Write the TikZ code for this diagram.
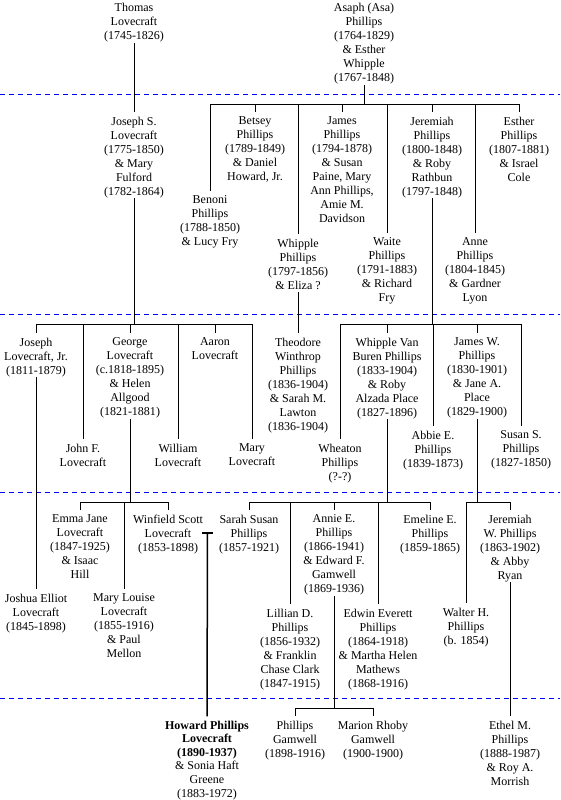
\documentclass[tikz,border=0pt]{standalone}
\usepackage{fontspec}
\setmainfont{Liberation Serif}
\newcommand\botstrut{\rule[-3pt]{0pt}{3pt}}
\tikzset{
  person/.style={anchor=north, align=center, inner sep=0pt, outer sep=0pt,
    font=\fontsize{12}{14}\selectfont, execute at end node=\botstrut},
  link/.style={draw=black, line width=1pt},
  drop/.style={link, shorten >=4.4pt},
  gensep/.style={draw=blue, line width=1pt, dash pattern=on 5pt off 4pt},
  marriage/.style={draw=black, line width=2pt}
}
\begin{document}
\begin{tikzpicture}[x=1pt, y=-1pt]
\useasboundingbox (0,0) rectangle (560,800);
\fill[white] (0,0) rectangle (560,800);

% generation separators
\draw[gensep] (0,94.5) -- (560,94.5);
\draw[gensep] (0,314.5) -- (560,314.5);
\draw[gensep] (0,492.5) -- (560,492.5);
\draw[gensep] (0,698) -- (560,698);

% bar levels
\coordinate (yA) at (0,104);
\coordinate (yB) at (0,324);
\coordinate (yC) at (0,502);
\coordinate (yD) at (0,708);

% generation 1
\node[person] (thomas) at (134,3.2) {Thomas\\Lovecraft\\(1745-1826)};
\node[person] (asaph) at (364,3.2) {Asaph (Asa)\\Phillips\\(1764-1829)\\\& Esther\\Whipple\\(1767-1848)};

% generation 2
\node[person] (josephS) at (134,116.7) {Joseph S.\\Lovecraft\\(1775-1850)\\\& Mary\\Fulford\\(1782-1864)};
\node[person] (benoni) at (210,195.7) {Benoni\\Phillips\\(1788-1850)\\\& Lucy Fry};
\node[person] (betsey) at (255,116.7) {Betsey\\Phillips\\(1789-1849)\\\& Daniel\\Howard, Jr.};
\node[person] (whipple) at (298,238.7) {Whipple\\Phillips\\(1797-1856)\\\& Eliza ?};
\node[person] (james) at (342,116.7) {James\\Phillips\\(1794-1878)\\\& Susan\\Paine, Mary\\Ann Phillips,\\Amie M.\\Davidson};
\node[person] (waite) at (387,237.7) {Waite\\Phillips\\(1791-1883)\\\& Richard\\Fry};
\node[person] (jeremiah) at (432,116.7) {Jeremiah\\Phillips\\(1800-1848)\\\& Roby\\Rathbun\\(1797-1848)};
\node[person] (anne) at (475,237.7) {Anne\\Phillips\\(1804-1845)\\\& Gardner\\Lyon};
\node[person] (esther) at (519,116.7) {Esther\\Phillips\\(1807-1881)\\\& Israel\\Cole};

% generation 3
\node[person] (josephjr) at (36,337.7) {Joseph\\Lovecraft, Jr.\\(1811-1879)};
\node[person] (johnf) at (83,443.7) {John F.\\Lovecraft};
\node[person] (george) at (130,337.7) {George\\Lovecraft\\(c.1818-1895)\\\& Helen\\Allgood\\(1821-1881)};
\node[person] (william) at (178,443.7) {William\\Lovecraft};
\node[person] (aaron) at (215,337.7) {Aaron\\Lovecraft};
\node[person] (mary) at (252,443.7) {Mary\\Lovecraft};
\node[person] (theodore) at (298,337.7) {Theodore\\Winthrop\\Phillips\\(1836-1904)\\\& Sarah M.\\Lawton\\(1836-1904)};
\node[person] (wheaton) at (340,443.7) {Wheaton\\Phillips\\(?-?)};
\node[person] (whippleVB) at (387,337.7) {Whipple Van\\Buren Phillips\\(1833-1904)\\\& Roby\\Alzada Place\\(1827-1896)};
\node[person] (abbie) at (433,430.7) {Abbie E.\\Phillips\\(1839-1873)};
\node[person] (jamesW) at (477,337.7) {James W.\\Phillips\\(1830-1901)\\\& Jane A.\\Place\\(1829-1900)};
\node[person] (susan) at (521,430.7) {Susan S.\\Phillips\\(1827-1850)};

% generation 4
\node[person] (joshua) at (36,593.7) {Joshua Elliot\\Lovecraft\\(1845-1898)};
\node[person] (emma) at (80,514.7) {Emma Jane\\Lovecraft\\(1847-1925)\\\& Isaac\\Hill};
\node[person] (marylouise) at (124,593.7) {Mary Louise\\Lovecraft\\(1855-1916)\\\& Paul\\Mellon};
\node[person] (winfield) at (168,514.7) {Winfield Scott\\Lovecraft\\(1853-1898)};
\node[person] (sarah) at (249,514.7) {Sarah Susan\\Phillips\\(1857-1921)};
\node[person] (lillian) at (290,608.7) {Lillian D.\\Phillips\\(1856-1932)\\\& Franklin\\Chase Clark\\(1847-1915)};
\node[person] (annie) at (334,514.7) {Annie E.\\Phillips\\(1866-1941)\\\& Edward F.\\Gamwell\\(1869-1936)};
\node[person] (edwin) at (378,608.7) {Edwin Everett\\Phillips\\(1864-1918)\\\& Martha Helen\\Mathews\\(1868-1916)};
\node[person] (emeline) at (430,514.7) {Emeline E.\\Phillips\\(1859-1865)};
\node[person] (walter) at (466,607.7) {Walter H.\\Phillips\\(b. 1854)};
\node[person] (jeremiahW) at (510,514.7) {Jeremiah\\W. Phillips\\(1863-1902)\\\& Abby\\Ryan};

% generation 5
\node[person, font=\fontsize{12}{13.6}\selectfont] (hpl) at (207,720.7) {\textbf{Howard Phillips}\\\textbf{Lovecraft}\\\textbf{(1890-1937)}\\\& Sonia Haft\\Greene\\(1883-1972)};
\node[person] (phillipsG) at (295,720.7) {Phillips\\Gamwell\\(1898-1916)};
\node[person] (marion) at (373,720.7) {Marion Rhoby\\Gamwell\\(1900-1900)};
\node[person] (ethel) at (510,720.7) {Ethel M.\\Phillips\\(1888-1987)\\\& Roy A.\\Morrish};

% connectors
\draw[drop] (thomas.south) -- (josephS.north);

\draw[link] (asaph.south) -- (asaph.south |- yA);
\draw[link] (benoni.north |- yA) -- (esther.north |- yA);
\foreach \c in {benoni,betsey,whipple,james,waite,jeremiah,anne,esther}
  \draw[drop] (\c.north |- yA) -- (\c.north);

\draw[link] (josephS.south) -- (josephS.south |- yB);
\draw[link] (josephjr.north |- yB) -- (mary.north |- yB);
\foreach \c in {josephjr,johnf,george,william,aaron,mary}
  \draw[drop] (\c.north |- yB) -- (\c.north);

\draw[drop] (whipple.south) -- (theodore.north);

\draw[link] (jeremiah.south) -- (jeremiah.south |- yB);
\draw[link] (wheaton.north |- yB) -- (susan.north |- yB);
\foreach \c in {wheaton,whippleVB,abbie,jamesW,susan}
  \draw[drop] (\c.north |- yB) -- (\c.north);

\draw[drop] (josephjr.south) -- (joshua.north);

\draw[link] (george.south) -- (george.south |- yC);
\draw[link] (emma.north |- yC) -- (winfield.north |- yC);
\foreach \c in {emma,marylouise,winfield}
  \draw[drop] (\c.north |- yC) -- (\c.north);

\draw[link] (whippleVB.south) -- (whippleVB.south |- yC);
\draw[link] (sarah.north |- yC) -- (emeline.north |- yC);
\foreach \c in {sarah,lillian,annie,edwin,emeline}
  \draw[drop] (\c.north |- yC) -- (\c.north);

\draw[link] (jamesW.south) -- (jamesW.south |- yC);
\draw[link] (walter.north |- yC) -- (jeremiahW.north |- yC);
\foreach \c in {walter,jeremiahW}
  \draw[drop] (\c.north |- yC) -- (\c.north);

% marriage of Winfield Scott Lovecraft and Sarah Susan Phillips
\coordinate (wedding) at (207.5,533);
\draw[marriage] ([xshift=-5.5pt]wedding) -- ([xshift=5.5pt]wedding);
\draw[drop, line width=1.5pt] (wedding) -- (hpl.north);

\draw[link] (annie.south) -- (annie.south |- yD);
\draw[link] (phillipsG.north |- yD) -- (marion.north |- yD);
\foreach \c in {phillipsG,marion}
  \draw[drop] (\c.north |- yD) -- (\c.north);

\draw[drop] (jeremiahW.south) -- (ethel.north);
\end{tikzpicture}
\end{document}
